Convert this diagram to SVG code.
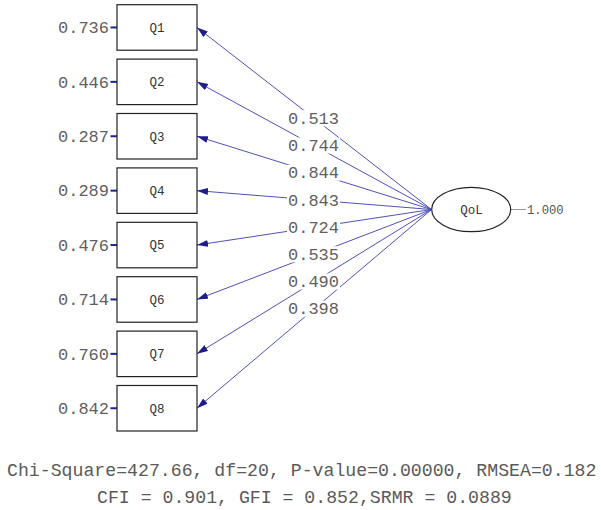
<svg xmlns="http://www.w3.org/2000/svg" width="601" height="510" viewBox="0 0 601 510">
<style>
.bg{fill:#ffffff}
.box{fill:#ffffff;stroke:#222222;stroke-width:1.2}
.qt{font-family:"Liberation Mono",monospace;font-size:12.5px;fill:#333333;text-anchor:middle}
.num{font-family:"Liberation Mono",monospace;font-size:17px;fill:#5f5f5f}
.err{text-anchor:end}
.conn{stroke:#5050b8;stroke-width:1;fill:none}
.tick{stroke:#20208c;stroke-width:2}
.lbg{fill:#ffffff}
.stat{font-family:"Liberation Mono",monospace;font-size:18.2px;fill:#5a5a5a}
.small{font-family:"Liberation Mono",monospace;font-size:12.2px;fill:#555555}
</style>
<defs>
<marker id="ah" markerUnits="userSpaceOnUse" markerWidth="12" markerHeight="8" refX="11" refY="3.5" orient="auto">
<path d="M0,0 L11,3.5 L0,7 z" fill="#1c1c8c"/>
</marker>
</defs>
<rect class="bg" x="0" y="0" width="601" height="510"/>

<g id="connectors">
<line class="conn" x1="431.5" y1="209.5" x2="197" y2="27.45" marker-end="url(#ah)"/>
<line class="conn" x1="431.5" y1="209.5" x2="197" y2="81.85" marker-end="url(#ah)"/>
<line class="conn" x1="431.5" y1="209.5" x2="197" y2="136.25" marker-end="url(#ah)"/>
<line class="conn" x1="431.5" y1="209.5" x2="197" y2="190.65" marker-end="url(#ah)"/>
<line class="conn" x1="431.5" y1="209.5" x2="197" y2="245.05" marker-end="url(#ah)"/>
<line class="conn" x1="431.5" y1="209.5" x2="197" y2="299.45" marker-end="url(#ah)"/>
<line class="conn" x1="431.5" y1="209.5" x2="197" y2="353.85" marker-end="url(#ah)"/>
<line class="conn" x1="431.5" y1="209.5" x2="197" y2="408.25" marker-end="url(#ah)"/>
<line x1="511" y1="209.5" x2="526" y2="209.5" stroke="#999999" stroke-width="1"/>
<line class="tick" x1="110.5" y1="27.45" x2="117" y2="27.45"/>
<line class="tick" x1="110.5" y1="81.85" x2="117" y2="81.85"/>
<line class="tick" x1="110.5" y1="136.25" x2="117" y2="136.25"/>
<line class="tick" x1="110.5" y1="190.65" x2="117" y2="190.65"/>
<line class="tick" x1="110.5" y1="245.05" x2="117" y2="245.05"/>
<line class="tick" x1="110.5" y1="299.45" x2="117" y2="299.45"/>
<line class="tick" x1="110.5" y1="353.85" x2="117" y2="353.85"/>
<line class="tick" x1="110.5" y1="408.25" x2="117" y2="408.25"/>
</g>

<g id="loadings">
<rect class="lbg" x="287" y="110.3" width="53" height="16"/>
<rect class="lbg" x="287" y="137.5" width="53" height="16"/>
<rect class="lbg" x="287" y="164.7" width="53" height="16"/>
<rect class="lbg" x="287" y="191.9" width="53" height="16"/>
<rect class="lbg" x="287" y="219.1" width="53" height="16"/>
<rect class="lbg" x="287" y="246.3" width="53" height="16"/>
<rect class="lbg" x="287" y="273.5" width="53" height="16"/>
<rect class="lbg" x="287" y="300.7" width="53" height="16"/>
<text class="num" x="288" y="124">0.513</text>
<text class="num" x="288" y="151.2">0.744</text>
<text class="num" x="288" y="178.4">0.844</text>
<text class="num" x="288" y="205.6">0.843</text>
<text class="num" x="288" y="232.8">0.724</text>
<text class="num" x="288" y="260">0.535</text>
<text class="num" x="288" y="287.2">0.490</text>
<text class="num" x="288" y="314.4">0.398</text>
</g>

<g id="Q1"><rect class="box" x="117" y="4.7" width="80" height="45.5"/><text class="qt" x="157" y="31.8">Q1</text><text class="num err" x="109" y="33.2">0.736</text></g>
<g id="Q2"><rect class="box" x="117" y="59.1" width="80" height="45.5"/><text class="qt" x="157" y="86.2">Q2</text><text class="num err" x="109" y="87.6">0.446</text></g>
<g id="Q3"><rect class="box" x="117" y="113.5" width="80" height="45.5"/><text class="qt" x="157" y="140.6">Q3</text><text class="num err" x="109" y="142">0.287</text></g>
<g id="Q4"><rect class="box" x="117" y="167.9" width="80" height="45.5"/><text class="qt" x="157" y="195">Q4</text><text class="num err" x="109" y="196.4">0.289</text></g>
<g id="Q5"><rect class="box" x="117" y="222.3" width="80" height="45.5"/><text class="qt" x="157" y="249.4">Q5</text><text class="num err" x="109" y="250.8">0.476</text></g>
<g id="Q6"><rect class="box" x="117" y="276.7" width="80" height="45.5"/><text class="qt" x="157" y="303.8">Q6</text><text class="num err" x="109" y="305.2">0.714</text></g>
<g id="Q7"><rect class="box" x="117" y="331.1" width="80" height="45.5"/><text class="qt" x="157" y="358.2">Q7</text><text class="num err" x="109" y="359.6">0.760</text></g>
<g id="Q8"><rect class="box" x="117" y="385.5" width="80" height="45.5"/><text class="qt" x="157" y="412.6">Q8</text><text class="num err" x="109" y="414">0.842</text></g>

<g id="QoL">
<ellipse cx="471.2" cy="209.5" rx="39.5" ry="22.2" fill="#ffffff" stroke="#222222" stroke-width="1.2"/>
<text class="qt" x="471.5" y="213.8">QoL</text>
<text class="small" x="527" y="213.8">1.000</text>
</g>

<g id="stats">
<text class="stat" x="7" y="476">Chi-Square=427.66, df=20, P-value=0.00000, RMSEA=0.182</text>
<text class="stat" x="97" y="503">CFI = 0.901, GFI = 0.852,SRMR = 0.0889</text>
</g>
</svg>
